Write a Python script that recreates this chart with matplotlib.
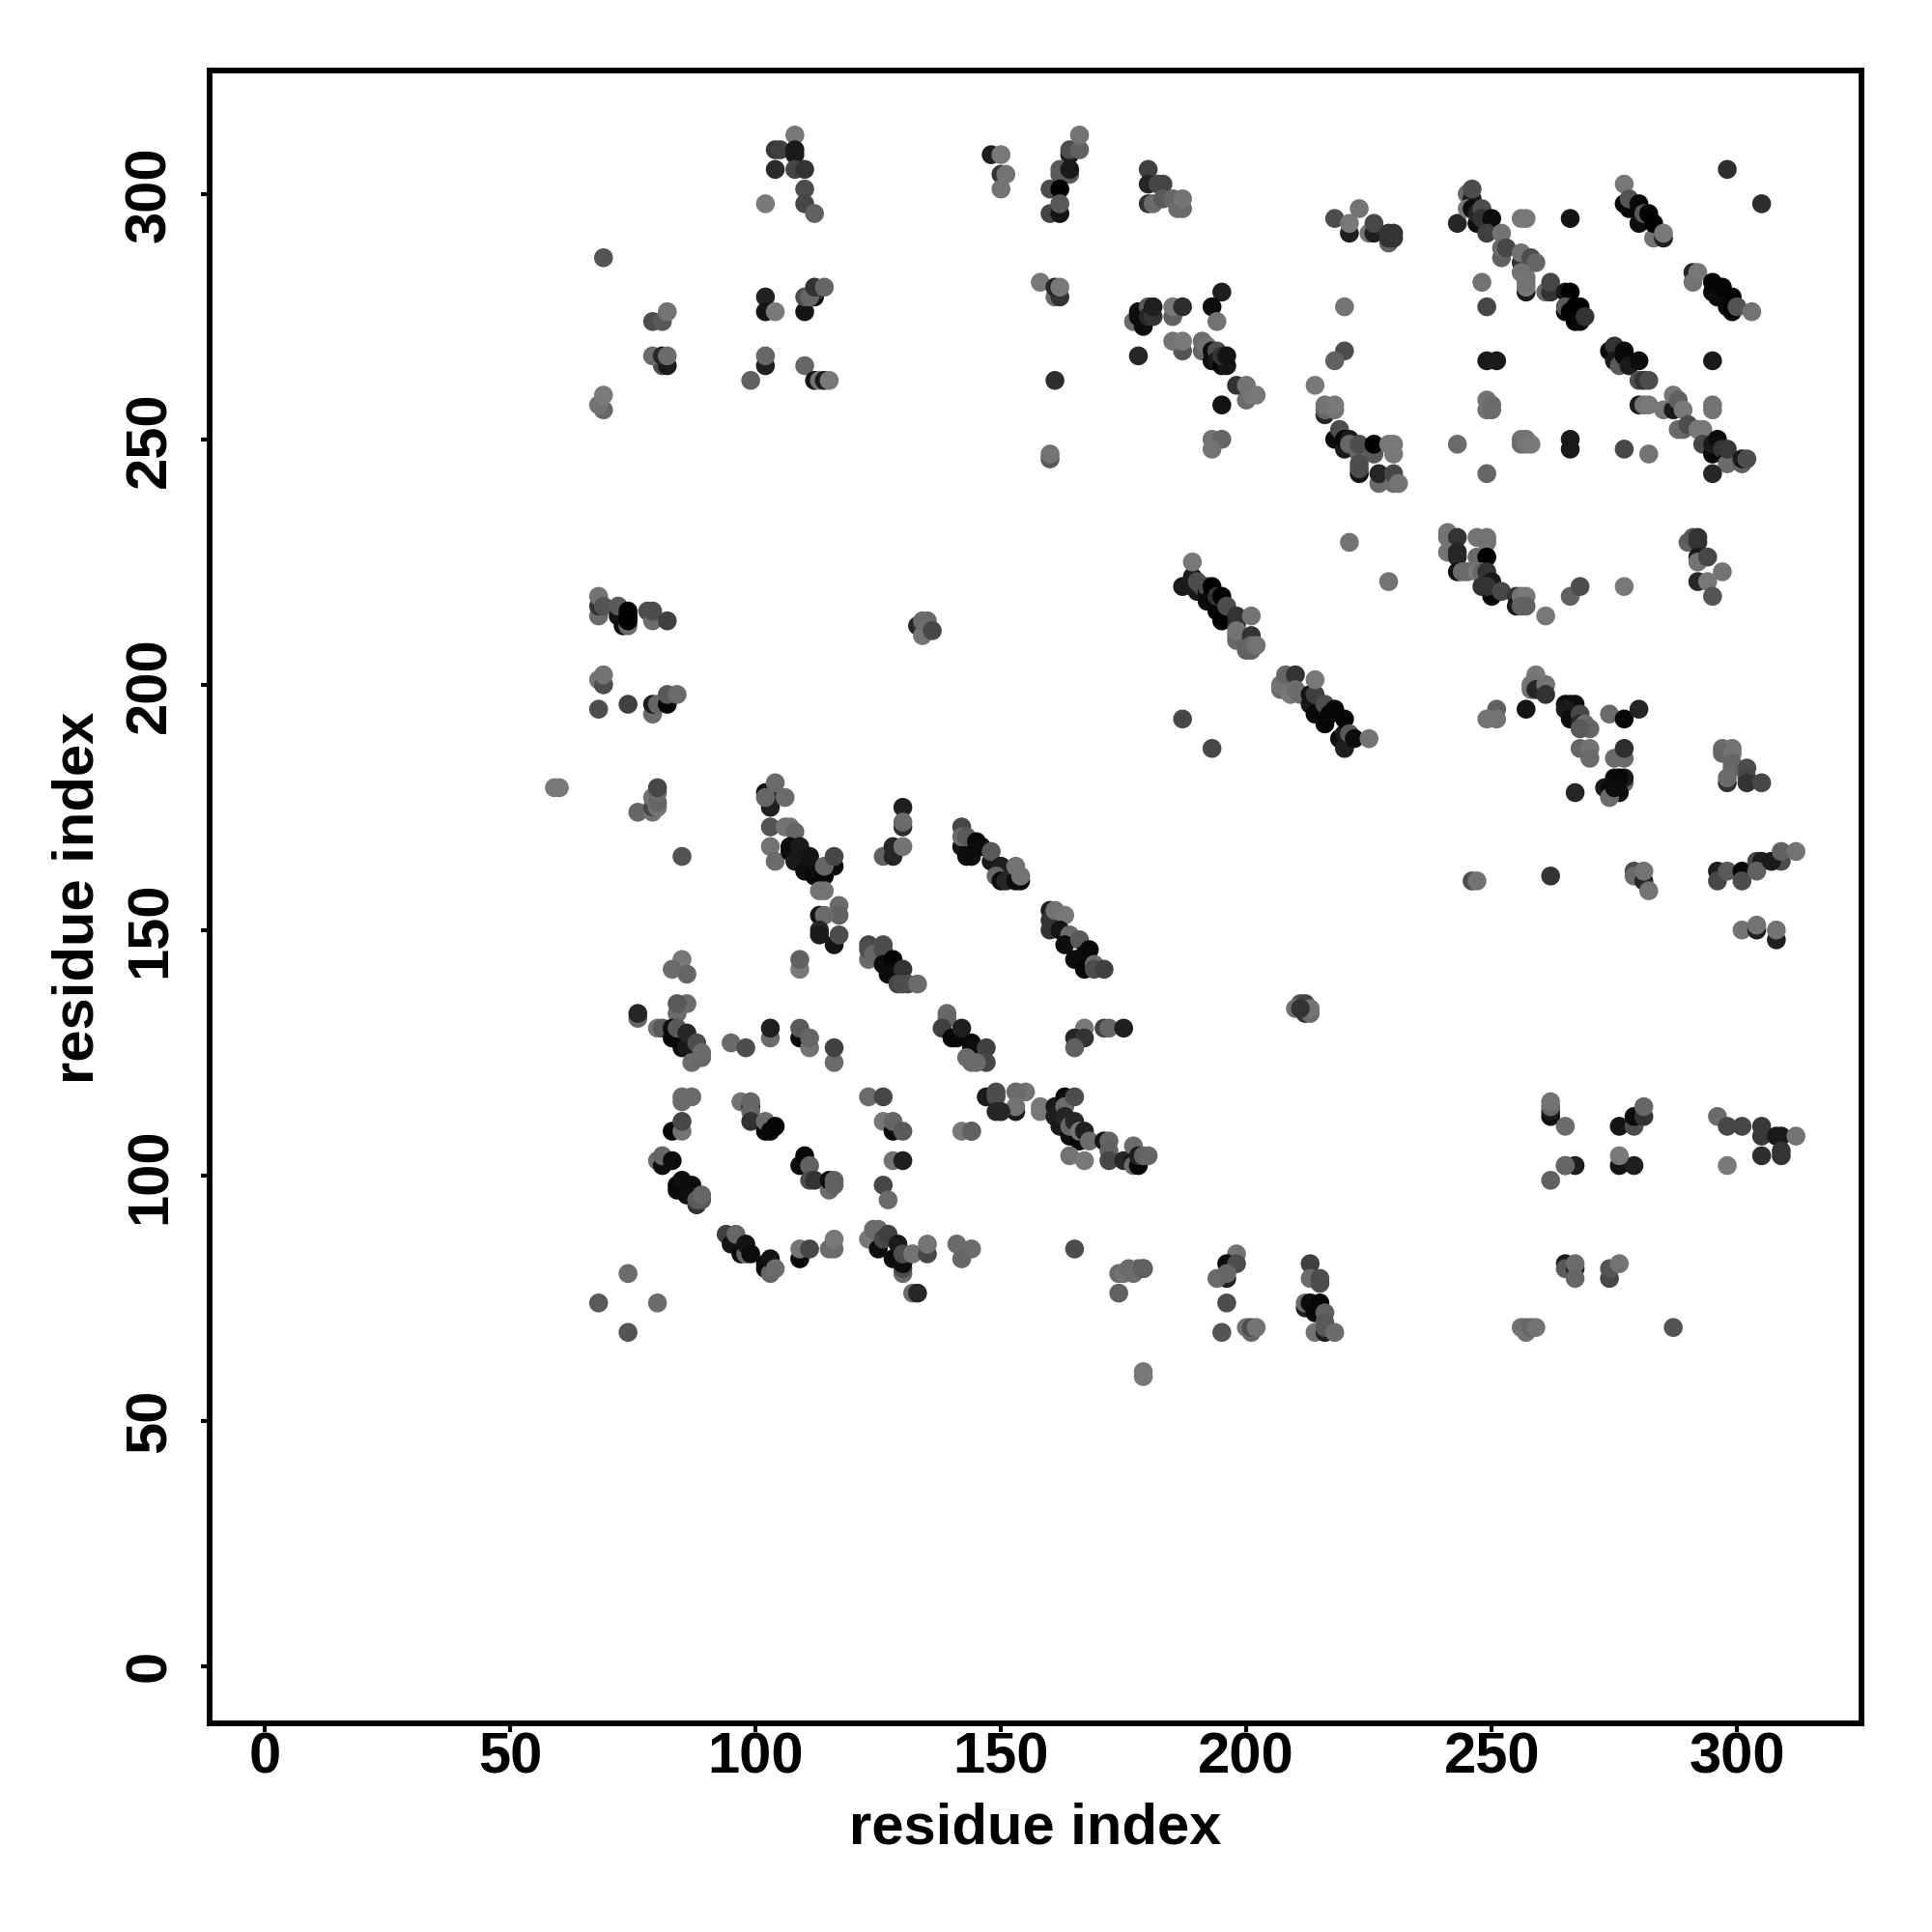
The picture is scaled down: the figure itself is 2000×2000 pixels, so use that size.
import matplotlib
matplotlib.use("Agg")
import matplotlib.pyplot as plt

# residue pairs (x residue, y residue) and darkness (percent grey), region by region
x_a = [108,104,105,108,108,104,108,110,110,110,112,102,69,79,81,82,81,82,79,81,82,69,68,69]
y_a = [312,309,309,309,308,305,305,305,301,298,296,298,287,274,274,276,265,265,267,267,267,256,257,259]
g_a = [47,22,25,10,10,17,27,20,30,28,38,48,33,30,35,45,30,10,42,15,42,40,45,48]

x_b = [102,102,104,110,112,112,110,111,112,114,102,102,99,110,112,113,114,115]
y_b = [279,276,276,276,279,280,279,279,281,281,265,267,262,265,262,262,262,262]
g_b = [13,8,48,8,5,20,30,40,20,40,12,40,38,40,8,45,10,47]

x_c = [148,150,150,151,150,164,164,166,166,164,162,162,164,160,162,160,162,162]
y_c = [308,308,304,304,301,308,309,309,312,304,304,305,305,301,301,296,296,298]
g_c = [12,47,20,45,45,10,30,38,45,35,35,35,10,30,0,27,8,35]

x_d = [180,180,182,183,180,181,183,185,186,187,187]
y_d = [305,302,302,302,298,298,299,299,297,297,299]
g_d = [25,15,28,27,20,42,35,40,42,42,45]

x_e = [218,223,221,221,225,226,226,229,229,230,229,230,220,220,218,214,216,216,216,218,218,218,219,220,220,221,221,223,223,226,226,229,230,230,223,223,223,227,227,230,230,231,221]
y_e = [295,297,292,294,292,292,294,290,292,292,291,291,277,268,266,261,255,256,257,256,257,250,252,248,250,250,249,247,249,247,249,249,247,249,243,245,244,241,243,241,243,241,229]
g_e = [30,45,12,47,45,12,28,38,20,20,20,20,45,30,38,47,15,40,45,45,47,5,30,10,3,10,40,40,30,35,0,47,47,47,8,30,30,42,15,42,28,45,45]

x_f = [158,161,162,161,162,177,178,178,179,180,180,181,181,185,185,187,195,193,194,178]
y_f = [282,279,279,281,281,274,276,275,273,277,275,275,277,275,277,277,280,277,274,267]
g_f = [47,42,20,15,47,42,5,5,5,35,15,20,12,38,47,18,12,5,45,15]

x_g = [187,185,187,191,191,192,193,193,194,194,195,196,195,196,198,200,200,201,202,195,161,193,195,193,160,160]
y_g = [268,270,270,268,270,269,266,268,268,266,265,265,267,267,261,258,261,259,259,257,262,250,250,248,246,247]
g_g = [33,45,47,40,42,45,5,5,30,10,2,8,20,8,20,42,45,45,47,7,18,45,40,45,35,45]

x_h = [298,305,243,245,246,246,245,246,247,247,248,248,250,249,252,252,252,253,256,257,266,256,256,258,259,256,257,257,257,257,248,249,261,262,262]
y_h = [305,298,294,300,299,301,297,297,294,296,297,295,295,292,292,287,289,289,295,295,295,286,288,287,286,284,280,281,283,282,282,277,280,280,282]
g_h = [18,18,15,42,10,30,47,5,5,15,30,20,5,25,45,38,42,28,47,47,8,20,45,30,40,45,10,47,45,45,45,28,40,20,28]

x_i = [265,266,265,265,266,267,268,267,268,269,277,277,278,278,280,280,281,282,283,283,285,285]
y_i = [280,280,276,277,276,274,274,277,277,275,302,298,297,299,298,294,296,296,291,294,291,292]
g_i = [10,0,3,35,0,0,3,0,0,20,47,3,3,33,3,5,35,2,45,0,12,47]

x_j = [291,291,292,295,295,296,297,298,299,299,300,303,249,251,295]
y_j = [284,282,284,280,282,279,281,277,276,279,277,276,266,266,266]
g_j = [15,45,47,3,2,5,2,3,2,2,33,45,10,10,10]

x_k = [274,275,275,276,277,277,278,280,280,281,282,280,281,282,285,287,287,288,288,289,289,290,292,293,293,295,295,296,297,298,298,298,301,301,302,295]
y_k = [268,269,266,265,268,267,265,266,262,262,262,257,257,257,256,256,259,258,252,252,256,253,252,252,249,247,249,250,248,246,245,248,245,246,246,243]
g_k = [3,20,10,35,5,3,10,5,30,20,30,10,45,47,47,10,47,38,42,40,47,30,47,47,28,3,10,5,20,5,42,22,38,10,30,15]

x_l = [249,249,250,250,295,295,243,256,256,257,257,258,266,266,277,282,249]
y_l = [256,258,256,257,256,257,249,250,249,250,249,249,250,248,248,247,243]
g_l = [45,45,42,42,45,45,42,45,42,45,45,47,10,10,28,45,40]

x_m = [241,241,243,247,249,249,241,243,243,243,245,244,247,249,247,248,249,250,248,250,249,252,255,255,256,257,256,257,261,266,268,277]
y_m = [231,230,230,230,230,229,227,227,226,223,223,223,226,226,223,223,223,221,220,218,220,219,218,216,218,218,216,216,214,218,220,220]
g_m = [45,45,20,45,45,45,45,15,15,8,40,42,42,0,47,40,20,10,20,3,20,28,20,10,45,47,38,38,47,38,30,47]

x_n = [290,291,292,292,292,292,294,297,292,294,295,229]
y_n = [229,230,230,229,226,225,226,223,221,221,218,221]
g_n = [38,35,20,20,10,45,28,45,15,47,33,45]

x_o = [259,258,258,259,261,261,251,249,251,257,265,267,266,265,266,268,268,269,270,268]
y_o = [202,200,199,199,200,198,195,193,193,195,196,196,196,195,193,194,192,192,191,191]
g_o = [47,45,45,15,45,20,38,45,45,8,5,5,5,10,5,28,15,42,40,35]

x_p = [274,277,280,268,270,270,277,275,277,277,275,277,276,273,274,276,274,275,267]
y_p = [194,193,195,187,187,185,185,185,187,180,181,181,181,179,179,178,177,179,178]
g_p = [42,3,15,40,45,42,42,42,18,40,5,10,3,10,5,5,42,5,15]

x_q = [297,299,297,299,299,299,302,302,298,298,302,305]
y_q = [187,187,186,186,183,184,183,181,180,181,180,180]
g_q = [42,45,40,45,38,40,30,28,20,42,20,28]

x_r = [246,247,262,279,279,281,281,282,296,296,298,301,301,304,305,304,309,307,309,312,301,304,304,308,308]
y_r = [160,160,161,162,161,160,162,158,162,160,162,162,160,164,164,162,164,164,166,166,150,150,151,148,150]
g_r = [30,45,20,30,42,15,45,45,12,28,35,3,30,28,12,38,30,10,38,45,45,12,45,12,45]

x_s = [262,262,262,262,265,276,279,279,281,281,296,298,301,305,305,309,308,312,305,309,309,298]
y_s = [112,113,114,115,110,110,110,112,112,114,112,110,110,110,108,108,108,108,104,104,105,102]
g_s = [5,10,40,45,42,8,30,5,20,40,42,28,28,22,22,10,10,45,18,20,20,48]

x_t = [265,267,265,262,276,279,276,265,265,267,267,267,274,274,276,256,257,257,258,259,287]
y_t = [102,102,102,99,102,102,104,82,81,81,82,79,79,81,82,69,69,68,69,69,69]
g_t = [12,12,40,38,8,12,47,10,35,15,42,40,28,33,45,45,42,45,40,45,33]

x_u = [187,189,189,190,190,191,192,192,192,193,193,194,194,195,195,196,198,198,198,198,198,200,201,201,201,201,202,189,187,193]
y_u = [220,220,222,219,221,220,217,219,220,218,220,215,218,213,218,216,212,214,209,210,211,207,207,210,208,214,208,225,193,187]
g_u = [10,10,10,10,30,30,5,3,30,3,0,3,20,0,0,30,20,20,42,40,45,38,38,20,40,45,45,47,28,28]

x_v = [207,207,208,210,209,210,211,213,213,214,214,216,216,217,218,219,220,220,220,221,222,225,214]
y_v = [199,200,202,202,198,199,198,196,198,194,198,192,196,194,195,189,187,190,193,190,189,189,201]
g_v = [42,45,40,20,47,42,42,10,8,3,25,2,30,3,3,5,12,10,2,35,5,45,47]

x_w = [68,68,68,69,72,72,73,74,74,74,74,78,79,79,82,133,134,134,135,134,136]
y_w = [214,216,218,216,214,216,212,212,213,215,214,215,213,215,213,212,212,210,213,213,211]
g_w = [42,20,45,33,8,35,5,42,0,0,0,30,42,30,25,15,20,45,42,42,28]

x_x = [69,68,69,69,68,74,79,79,80,82,82,84]
y_x = [200,201,200,202,195,196,194,196,196,196,198,198]
g_x = [45,45,30,45,30,25,42,12,40,2,35,42]

x_y = [59,60,76,79,79,80,79,80,80,80,85]
y_y = [179,179,174,174,175,175,177,176,178,179,165]
g_y = [47,47,40,45,28,45,45,40,42,28,32]

x_z = [102,103,103,102,104,106,103,103,104,106,107,108,107,107,109,108,110,111,112,113,114,116,114,116,113,114]
y_z = [178,177,175,177,180,177,171,167,164,171,171,170,166,167,167,164,162,165,161,162,161,163,163,165,158,158]
g_z = [8,20,12,40,42,42,33,45,42,45,45,40,5,5,10,10,5,8,3,5,3,5,40,28,45,45]

x_aa = [126,128,128,130,130,130,130,117,117,113,114,113,113,116,117,123,126]
y_aa = [165,165,167,167,175,171,172,155,153,153,153,150,149,147,149,147,147]
g_aa = [38,15,15,45,12,18,42,42,38,8,42,15,10,8,30,28,30]

x_ab = [142,142,142,143,143,144,145,146,148,148,150,149,150,151,153,153,154,154]
y_ab = [167,171,169,165,169,165,168,167,164,166,163,161,160,160,160,163,160,161]
g_ab = [8,28,42,5,35,5,3,5,10,35,12,40,5,15,5,45,5,45]

x_ac = [160,160,160,161,163,162,164,163,166,165,167,168,167,169,169,171]
y_ac = [154,152,150,154,153,150,149,147,148,144,145,146,142,143,142,142]
g_ac = [12,20,20,45,47,8,42,5,35,5,5,3,2,42,30,25]

x_ad = [167,165,167,165,171,172,175,144,144,144,147,147,145,144]
y_ad = [130,128,128,126,130,130,130,127,126,123,126,123,123,109]
g_ad = [47,15,20,38,25,40,12,3,5,42,25,28,42,38]

x_ae = [147,149,149,153,155,153,153,150,149,158,158]
y_ae = [116,116,117,113,117,117,114,113,113,114,113]
g_ae = [10,30,30,10,45,42,45,15,15,47,47]

x_af = [161,161,162,163,163,163,164,164,165,165,166,166,167,168,171,172,172,172,164,167]
y_af = [114,112,110,116,114,112,108,110,116,111,107,109,109,107,107,107,105,103,104,103]
g_af = [10,12,10,5,42,15,5,40,30,15,3,45,12,42,8,40,38,28,45,47]

x_ag = [175,177,177,177,178,178,179,180,211,210,212,212,213,213,211,165]
y_ag = [103,103,106,102,102,104,104,104,135,134,133,135,133,134,134,85]
g_ag = [15,10,42,42,2,12,38,40,33,45,20,25,42,45,20,30]

x_ah = [174,174,175,176,177,178,179,179,179,179,198,196,198,196,194,196,196,195]
y_ah = [76,80,80,81,80,81,81,81,60,59,84,82,82,79,79,80,74,68]
g_ah = [38,42,45,42,42,42,10,38,47,47,45,5,30,12,42,40,30,33]

x_ai = [200,201,201,202,213,213,215,215,212,212,213,214,215,216,216,214,216,216,218]
y_ai = [69,68,69,69,82,79,79,78,73,74,74,72,74,72,70,68,68,69,68]
g_ai = [45,40,30,45,25,42,30,30,12,42,5,3,2,38,35,45,12,35,42]

x_aj = [85,83,86,109,109,123,123,124,126,126,128,127,130,129,130,131,133]
y_aj = [144,142,141,142,144,144,146,145,146,143,144,141,142,139,139,139,139]
g_aj = [47,42,40,47,38,42,30,40,30,5,2,5,20,28,30,30,42]

x_ak = [76,76,80,81,84,86,84,83,83,84,85,86,86,88,87,89,89]
y_ak = [132,133,130,130,133,135,135,130,128,130,126,126,129,127,123,124,125]
g_ak = [40,15,45,35,42,42,35,5,3,35,5,10,15,30,42,40,42]

x_al = [95,98,103,103,109,109,111,111,116,116]
y_al = [127,126,128,130,128,130,126,128,123,126]
g_al = [42,30,42,12,3,35,45,40,42,25]

x_am = [85,85,87,83,85,85,97,99,99,99,99,102,102,103,104]
y_am = [115,116,116,109,109,111,115,114,113,111,115,109,111,109,110]
g_am = [42,42,42,3,45,28,45,5,40,20,40,3,42,3,2]

x_an = [123,126,126,128,128,130,142,144,128,130,126,127]
y_an = [116,116,111,109,111,109,109,109,103,103,98,95]
g_an = [42,28,47,5,40,35,47,38,45,12,28,42]

x_ao = [109,110,111,111,112,115,115,116,116,80,81,81,83,84,84,85,86,87,88,88,89,89]
y_ao = [102,104,102,99,99,97,99,98,99,103,102,104,103,97,98,99,96,98,94,95,95,96]
g_ao = [5,3,38,30,20,42,5,38,38,42,5,40,5,5,3,5,5,5,20,35,35,40]

x_ap = [94,95,96,97,98,98,99,102,102,103,103,104,109,109,111,115,116,116]
y_ap = [88,86,88,84,84,86,84,81,82,80,83,81,83,85,85,85,85,87]
g_ap = [25,8,40,5,40,8,5,5,5,40,8,42,3,45,28,42,42,47]

x_aq = [123,125,124,125,126,127,128,129,130,130,130,130,132,135,135,141,142,144,132,133]
y_aq = [87,85,89,89,87,88,83,86,80,81,82,84,84,84,86,86,83,85,76,76]
g_aq = [47,5,42,42,28,25,5,10,42,30,5,30,45,28,45,42,40,42,42,15]

x_ar = [74,68,80,74,139,139,138,140,141,142,143]
y_ar = [80,74,74,68,133,132,130,128,128,130,124]
g_ar = [42,35,42,33,42,40,25,3,3,12,42]

xs = x_a+x_b+x_c+x_d+x_e+x_f+x_g+x_h+x_i+x_j+x_k+x_l+x_m+x_n+x_o+x_p+x_q+x_r+x_s+x_t+x_u+x_v+x_w+x_x+x_y+x_z+x_aa+x_ab+x_ac+x_ad+x_ae+x_af+x_ag+x_ah+x_ai+x_aj+x_ak+x_al+x_am+x_an+x_ao+x_ap+x_aq+x_ar
ys = y_a+y_b+y_c+y_d+y_e+y_f+y_g+y_h+y_i+y_j+y_k+y_l+y_m+y_n+y_o+y_p+y_q+y_r+y_s+y_t+y_u+y_v+y_w+y_x+y_y+y_z+y_aa+y_ab+y_ac+y_ad+y_ae+y_af+y_ag+y_ah+y_ai+y_aj+y_ak+y_al+y_am+y_an+y_ao+y_ap+y_aq+y_ar
gs = g_a+g_b+g_c+g_d+g_e+g_f+g_g+g_h+g_i+g_j+g_k+g_l+g_m+g_n+g_o+g_p+g_q+g_r+g_s+g_t+g_u+g_v+g_w+g_x+g_y+g_z+g_aa+g_ab+g_ac+g_ad+g_ae+g_af+g_ag+g_ah+g_ai+g_aj+g_ak+g_al+g_am+g_an+g_ao+g_ap+g_aq+g_ar
n = min(len(xs), len(ys), len(gs))

tick_values = [0, 50, 100, 150, 200, 250, 300]
axis_label = "residue index"

plt.rcParams['font.family'] = ['Liberation Sans', 'DejaVu Sans']
plt.rcParams['font.weight'] = 'bold'
fig = plt.figure(figsize=(20, 20), dpi=100)
ax = fig.add_axes([216.5/2000, 216.5/2000, 1710.5/2000, 1710.5/2000])
ax.scatter(xs[:n], ys[:n], s=198, c=[str(v/100) for v in gs[:n]], linewidths=0)
ax.set_xlim(-11.36, 325.35)
ax.set_ylim(-11.57, 325.15)
ax.set_xticks(tick_values)
ax.set_yticks(tick_values)
ax.tick_params(length=6.7, width=3.0, labelsize=43)
ax.tick_params(axis='x', pad=0)
ax.tick_params(axis='y', pad=17)
for lab in ax.get_yticklabels():
    lab.set_rotation(90)
    lab.set_va('center')
for sp in ax.spines.values():
    sp.set_linewidth(4.2)
fig.text(1072/2000, 1-1893/2000, axis_label, ha='center', va='center', fontsize=43, fontweight='bold')
fig.text(81/2000, 1-929/2000, axis_label, ha='center', va='center', rotation=90, fontsize=43, fontweight='bold')
fig.savefig("out.png", dpi=100, facecolor='white')
